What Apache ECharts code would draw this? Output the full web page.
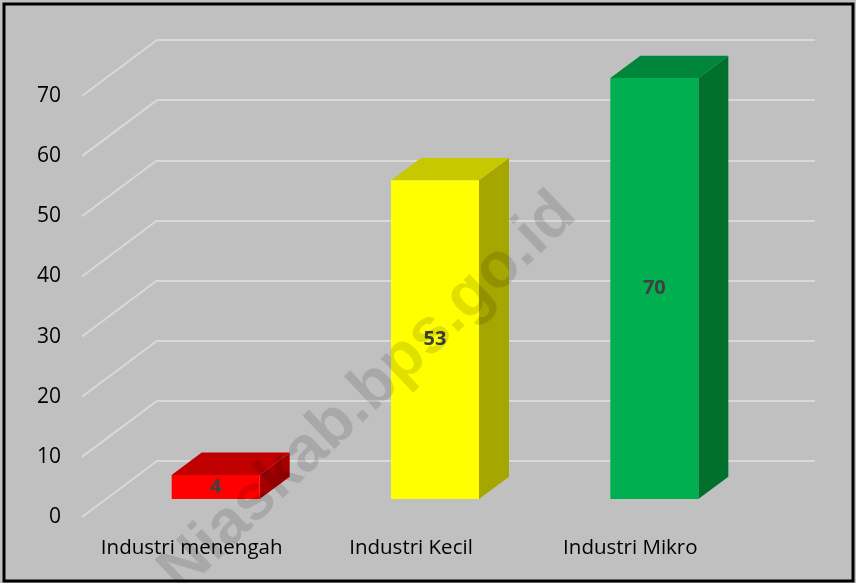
<!DOCTYPE html>
<html>
<head>
<meta charset="utf-8">
<script src="https://cdn.jsdelivr.net/npm/echarts@6/dist/echarts.min.js"></script>
<style>
  html, body { margin: 0; padding: 0; background: #c0c0c0; }
  #chart { width: 856px; height: 583px; }
</style>
</head>
<body>
<div id="chart"></div>
<script>
// data
const categories = ['Industri menengah', 'Industri Kecil', 'Industri Mikro'];
const values = [4, 53, 70];
const yTicks = [0, 10, 20, 30, 40, 50, 60, 70];

// colours per bar: front, top, side
const barColors = [
  ['#ff0000', '#c00000', '#a40000'],
  ['#ffff00', '#c8c800', '#a6a600'],
  ['#00b050', '#00853c', '#00702f']
];

// 3D projection: full depth of the floor, bar front/back as fraction of it
const DEPTH = [-75, 56];
const FRONT = 0.68;
const BACK = 0.28;
const HALF_W = 44;

function renderChart() {
  const dom = document.getElementById('chart');
  const chart = echarts.init(dom);
  const font = '"Open Sans", "Noto Sans", sans-serif';

  const option = {
    backgroundColor: '#c0c0c0',
    animation: false,
    grid: [
      // back wall
      { left: 157, right: 41, top: 40, bottom: 122 },
      // front plane (for axis labels)
      { left: 82, right: 116, top: 96, bottom: 66 }
    ],
    xAxis: [
      {
        type: 'category', gridIndex: 0, data: categories,
        axisLine: { show: false }, axisTick: { show: false }, axisLabel: { show: false }
      },
      {
        type: 'category', gridIndex: 1, data: categories,
        axisLine: { show: false }, axisTick: { show: false },
        axisLabel: { color: '#000', fontSize: 20.5, fontFamily: font, margin: 21, interval: 0, hideOverlap: false }
      }
    ],
    yAxis: [
      {
        type: 'value', gridIndex: 0, min: 0, max: 70, interval: 10,
        axisLine: { show: false }, axisTick: { show: false }, axisLabel: { show: false },
        splitLine: { lineStyle: { color: '#d9d9d9', width: 2 } }
      },
      {
        type: 'value', gridIndex: 1, min: 0, max: 70, interval: 10,
        axisLine: { show: false }, axisTick: { show: false },
        axisLabel: { color: '#000', fontSize: 21, fontFamily: font, margin: 21 },
        splitLine: { show: false }
      }
    ],
    series: [
      {
        // side wall gridlines
        type: 'custom',
        xAxisIndex: 0, yAxisIndex: 0,
        data: yTicks.map(function (t) { return [0, t]; }),
        silent: true,
        renderItem: function (params, api) {
          const p = api.coord([0, api.value(1)]);
          const x0 = params.coordSys.x;
          return {
            type: 'line',
            shape: { x1: x0, y1: p[1], x2: x0 + DEPTH[0], y2: p[1] + DEPTH[1] },
            style: { stroke: '#d9d9d9', lineWidth: 2 }
          };
        }
      },
      {
        type: 'custom',
        xAxisIndex: 0, yAxisIndex: 0,
        data: values.map(function (v, i) { return [i, v]; }),
        renderItem: function (params, api) {
          const i = params.dataIndex;
          const base = api.coord([api.value(0), 0]);
          const top = api.coord([api.value(0), api.value(1)]);
          const c = barColors[i];
          const fx = base[0] + DEPTH[0] * FRONT;
          const fl = fx - HALF_W, fr = fx + HALF_W;
          const ft = top[1] + DEPTH[1] * FRONT;
          const fb = base[1] + DEPTH[1] * FRONT;
          // vector from front face to back face
          const dx = DEPTH[0] * (BACK - FRONT);
          const dy = DEPTH[1] * (BACK - FRONT);
          return {
            type: 'group',
            children: [
              {
                type: 'polygon',
                shape: { points: [[fr, ft], [fr + dx, ft + dy], [fr + dx, fb + dy], [fr, fb]] },
                style: { fill: c[2] }
              },
              {
                type: 'polygon',
                shape: { points: [[fl, ft], [fr, ft], [fr + dx, ft + dy], [fl + dx, ft + dy]] },
                style: { fill: c[1] }
              },
              {
                type: 'rect',
                shape: { x: fl, y: ft, width: fr - fl, height: fb - ft },
                style: { fill: c[0] }
              },
              {
                type: 'text',
                x: fx, y: (ft + fb) / 2,
                style: {
                  text: String(api.value(1)),
                  fill: '#404040',
                  font: 'bold 20px ' + font,
                  align: 'center', verticalAlign: 'middle'
                }
              }
            ]
          };
        }
      }
    ],
    graphic: [
      {
        type: 'text',
        x: 368, y: 393,
        rotation: 0.76,
        z: 100,
        silent: true,
        style: {
          text: 'Niaskab.bps.go.id',
          font: 'bold 64px "Liberation Sans", sans-serif',
          fill: 'rgba(0,0,0,0.12)',
          align: 'center', verticalAlign: 'middle'
        }
      },
      {
        type: 'rect',
        z: 101,
        silent: true,
        shape: { x: 4, y: 4, width: 849, height: 577 },
        style: { fill: 'none', stroke: '#000', lineWidth: 3 }
      }
    ]
  };
  chart.setOption(option, true);
}
renderChart();
</script>
</body>
</html>
